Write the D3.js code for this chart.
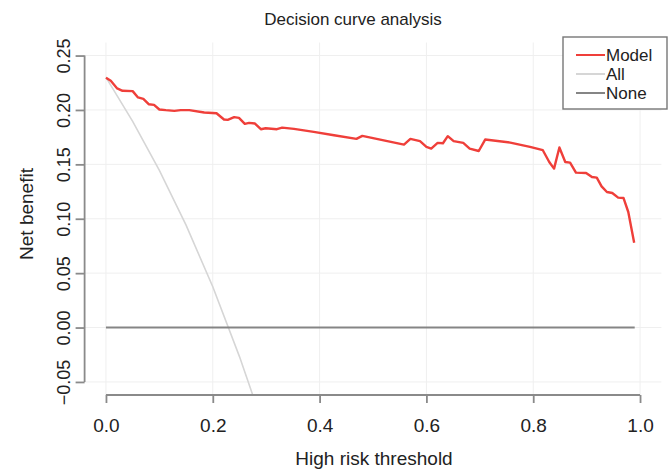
<!DOCTYPE html>
<html>
<head>
<meta charset="utf-8">
<script src="https://cdn.jsdelivr.net/npm/d3@7"></script>
<style>
  body { margin: 0; background: #fff; }
  svg text { font-family: "Liberation Sans", Arial, Helvetica, sans-serif; fill: #222; }
</style>
</head>
<body>
<svg id="chart" width="672" height="470"></svg>
<script>
// thresholds and net benefit
var modelThreshold = [0, 0.009, 0.021, 0.031, 0.05, 0.06, 0.07, 0.08, 0.09, 0.1, 0.112, 0.128, 0.14, 0.156, 0.184, 0.207,
  0.221, 0.228, 0.24, 0.249, 0.26, 0.268, 0.279, 0.29, 0.299, 0.32, 0.33, 0.352, 0.389, 0.427, 0.469, 0.48,
  0.558, 0.57, 0.588, 0.6, 0.609, 0.621, 0.631, 0.64, 0.651, 0.669, 0.681, 0.698, 0.71, 0.757, 0.794, 0.818,
  0.83, 0.839, 0.849, 0.86, 0.869, 0.88, 0.899, 0.91, 0.919, 0.928, 0.938, 0.948, 0.959, 0.969, 0.978, 0.989];
var modelNB = [0.2296, 0.2268, 0.2198, 0.2176, 0.2173, 0.2115, 0.2102, 0.2053, 0.2047, 0.2004, 0.1998, 0.1992, 0.1998, 0.1998, 0.1977, 0.197,
  0.1912, 0.1909, 0.1934, 0.1927, 0.1872, 0.1881, 0.1875, 0.1823, 0.1832, 0.1823, 0.1838, 0.1826, 0.1798, 0.1768, 0.1734, 0.1762,
  0.1682, 0.1734, 0.1713, 0.166, 0.1645, 0.1697, 0.1694, 0.1759, 0.1713, 0.1697, 0.1645, 0.1623, 0.1728, 0.170, 0.166, 0.163,
  0.1522, 0.1461, 0.1655, 0.1522, 0.1516, 0.1424, 0.1421, 0.1384, 0.1378, 0.1298, 0.1246, 0.1237, 0.1194, 0.1191, 0.1062, 0.078];

var allThreshold = [0, 0.05, 0.1, 0.15, 0.2, 0.25, 0.28];
var allNB = [0.23, 0.1895, 0.1444, 0.0941, 0.0375, -0.0267, -0.0694];

var noneThreshold = [0, 0.99];
var noneNB = [0, 0];

var xTicks = [0, 0.2, 0.4, 0.6, 0.8, 1.0];
var yTicks = [-0.05, 0, 0.05, 0.1, 0.15, 0.2, 0.25];

var legendNames = ["Model", "All", "None"];
var legendColors = ["#ef3f3a", "#d6d6d6", "#858585"];

var svg = d3.select("#chart"),
  plot = { left: 84.6, right: 661.4, top: 42.5, bottom: 395 };

var x = d3.scaleLinear().domain([-0.04, 1.04]).range([plot.left, plot.right]);
var y = d3.scaleLinear().domain([-0.062, 0.262]).range([plot.bottom, plot.top]);

svg.append("defs").append("clipPath").attr("id", "clip")
  .append("rect")
  .attr("x", plot.left).attr("y", plot.top)
  .attr("width", plot.right - plot.left).attr("height", plot.bottom - plot.top);

// grid
var grid = svg.append("g").attr("stroke", "#efefef").attr("stroke-width", 1);
grid.selectAll(".gx").data(xTicks).enter().append("line")
  .attr("x1", d => x(d)).attr("x2", d => x(d))
  .attr("y1", plot.top).attr("y2", plot.bottom);
grid.selectAll(".gy").data(yTicks).enter().append("line")
  .attr("x1", plot.left).attr("x2", plot.right)
  .attr("y1", d => y(d)).attr("y2", d => y(d));

var line = d3.line()
  .x(d => x(d[0]))
  .y(d => y(d[1]));

var lines = svg.append("g").attr("clip-path", "url(#clip)").attr("fill", "none");

lines.append("path")
  .attr("stroke", legendColors[1]).attr("stroke-width", 1.6)
  .attr("d", line(d3.zip(allThreshold, allNB)));

lines.append("path")
  .attr("stroke", legendColors[2]).attr("stroke-width", 2)
  .attr("d", line(d3.zip(noneThreshold, noneNB)));

lines.append("path")
  .attr("stroke", legendColors[0]).attr("stroke-width", 2.4)
  .attr("stroke-linejoin", "round")
  .attr("d", line(d3.zip(modelThreshold, modelNB)));

// axes, R style: line spans first to last tick
var xAxis = svg.append("g")
  .attr("transform", "translate(0," + plot.bottom + ")")
  .call(d3.axisBottom(x).tickValues(xTicks).tickSize(8).tickSizeOuter(0).tickFormat(d3.format(".1f")));
xAxis.select(".domain").attr("d", "M" + x(0) + ",0H" + x(1));
xAxis.selectAll("line, .domain").attr("stroke", "#8a8a8a").attr("stroke-width", 1.8);
xAxis.selectAll("text")
  .attr("y", 0).attr("dy", 0)
  .attr("transform", "translate(0,37)")
  .style("font-size", "19px").style("font-family", "Liberation Sans, Arial, sans-serif").attr("fill", "#222");

var yFmt = d => (d < 0 ? "\u2212" : "") + d3.format(".2f")(Math.abs(d));
var yAxis = svg.append("g")
  .attr("transform", "translate(" + plot.left + ",0)")
  .call(d3.axisLeft(y).tickValues(yTicks).tickSize(9).tickSizeOuter(0).tickFormat(yFmt));
yAxis.select(".domain").attr("d", "M0," + y(0.25) + "V" + y(-0.05));
yAxis.selectAll("line, .domain").attr("stroke", "#8a8a8a").attr("stroke-width", 1.8);
yAxis.selectAll("text")
  .attr("x", 0).attr("dy", 0)
  .attr("text-anchor", "middle")
  .attr("transform", "translate(-15,0) rotate(-90)")
  .style("font-size", "18px").style("font-family", "Liberation Sans, Arial, sans-serif").attr("fill", "#222");

// titles
svg.append("text")
  .attr("x", 353).attr("y", 25)
  .attr("text-anchor", "middle")
  .style("font-size", "17px")
  .text("Decision curve analysis");

svg.append("text")
  .attr("x", 374).attr("y", 465)
  .attr("text-anchor", "middle")
  .style("font-size", "19px")
  .text("High risk threshold");

svg.append("text")
  .attr("transform", "translate(33,214) rotate(-90)")
  .attr("text-anchor", "middle")
  .style("font-size", "19px")
  .text("Net benefit");

// legend
var legend = svg.append("g");
legend.append("rect")
  .attr("x", 563).attr("y", 37).attr("width", 104).attr("height", 72)
  .attr("fill", "#fff").attr("stroke", "#777").attr("stroke-width", 1.4);
var rows = legend.selectAll(".row").data(legendNames).enter().append("g")
  .attr("transform", (d, i) => "translate(0," + (55 + i * 19) + ")");
rows.append("line")
  .attr("x1", 576).attr("x2", 605)
  .attr("stroke", (d, i) => legendColors[i]).attr("stroke-width", 2);
rows.append("text")
  .attr("x", 606).attr("y", 6)
  .style("font-size", "17px")
  .text(d => d);
</script>
</body>
</html>
